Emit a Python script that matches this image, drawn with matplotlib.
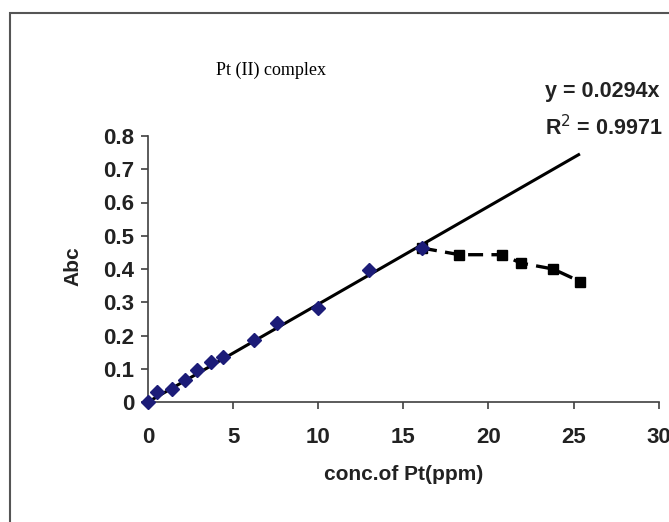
import matplotlib
matplotlib.use("Agg")
import matplotlib.pyplot as plt
from matplotlib.patches import Rectangle

# calibration points (blue diamonds)
conc = [0, 0.5, 1.4, 2.2, 2.85, 3.7, 4.4, 6.25, 7.6, 10.0, 13.0, 16.1]
absorb = [0.0, 0.031, 0.038, 0.066, 0.096, 0.12, 0.136, 0.187, 0.239, 0.284, 0.398, 0.463]

# deviation points (black squares, dashed)
conc_high = [16.1, 18.3, 20.8, 21.9, 23.8, 25.4]
absorb_high = [0.463, 0.443, 0.443, 0.418, 0.40, 0.362]

# linear trendline through origin
slope = 0.0294
trend_x = [0, 25.3]
x_ticks = [0, 5, 10, 15, 20, 25, 30]
y_ticks = [0, 0.1, 0.2, 0.3, 0.4, 0.5, 0.6, 0.7, 0.8]

plt.rcParams['font.family'] = ['Liberation Sans', 'DejaVu Sans']

fig = plt.figure(figsize=(6.69, 5.22), dpi=100)
ax = fig.add_axes([148 / 669, 120 / 522, 510.6 / 669, 266 / 522])

trend_y = [slope * x for x in trend_x]
ax.plot(trend_x, trend_y, color="black", lw=2.2, zorder=2)
ax.plot(conc_high, absorb_high, color="black", lw=2.4, ls=(0, (4.5, 2.5)),
        marker="s", markersize=7.5, markerfacecolor="black", zorder=3)
ax.plot(conc, absorb, ls="none", marker="D", markersize=7.5,
        color="#1c1c78", clip_on=False, zorder=4)

ax.set_xlim(0, 30)
ax.set_ylim(0, 0.8)
ax.set_xticks(x_ticks)
ax.set_yticks(y_ticks)
ax.set_xticklabels([str(t) for t in x_ticks])
ax.set_yticklabels(["0" if t == 0 else f"{t:.1f}" for t in y_ticks])

for side in ["top", "right"]:
    ax.spines[side].set_visible(False)
for side in ["left", "bottom"]:
    ax.spines[side].set_color("#404040")
    ax.spines[side].set_linewidth(1.2)

ax.tick_params(axis="both", direction="out", length=5, width=1.2, color="#404040",
               labelsize=16, pad=13)
ax.tick_params(axis="y", pad=5)
for lab in ax.get_xticklabels() + ax.get_yticklabels():
    lab.set_fontweight("bold")
    lab.set_color("#222222")

ax.set_xlabel("conc.of Pt(ppm)", fontsize=15, fontweight="bold", color="#222222", labelpad=12)
fig.text(73 / 669, 1 - 266 / 522, "Abc", rotation=90, fontsize=15, fontweight="bold",
         color="#222222", ha="center", va="center")

fig.text(271 / 669, 1 - 70 / 522, "Pt (II) complex", fontsize=13,
         family=["Liberation Serif", "DejaVu Serif"], ha="center", va="center")
fig.text(545 / 669, 1 - 92 / 522, "y = 0.0294x", fontsize=15.5, fontweight="bold",
         color="#222222", ha="left", va="center")
fig.text(545 / 669, 1 - 128 / 522, "R$^2$ = 0.9971", fontsize=15.5, fontweight="bold",
         color="#222222", ha="left", va="center")

# outer chart border
fig.patches.append(Rectangle((10 / 669, -0.1), 1.2, 1 - 13 / 522 + 0.1,
                             transform=fig.transFigure, fill=False,
                             edgecolor="#555555", lw=1.5))

fig.savefig("out.png", dpi=100)
